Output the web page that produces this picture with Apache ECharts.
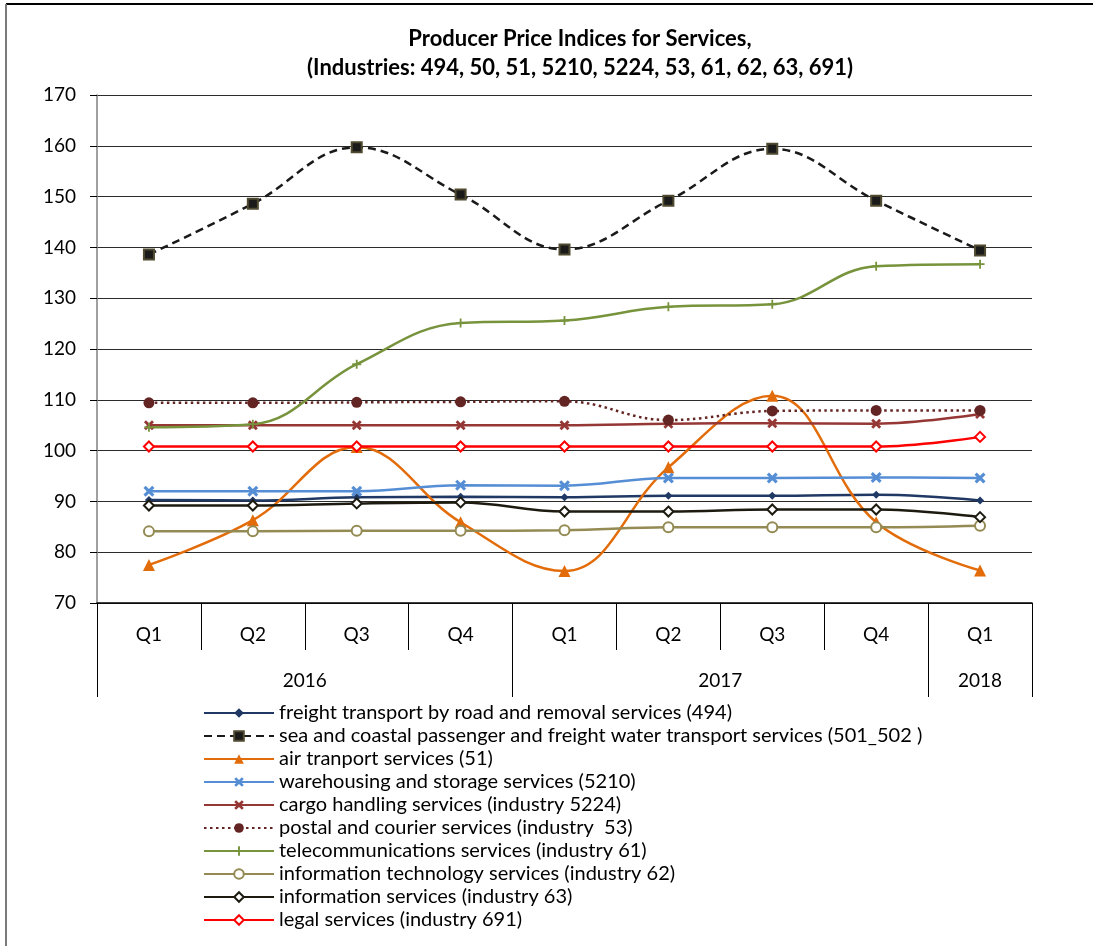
<!DOCTYPE html>
<html>
<head>
<meta charset="utf-8">
<script src="https://cdn.jsdelivr.net/npm/echarts@6/dist/echarts.min.js"></script>
<style>
  html, body { margin: 0; padding: 0; background: #fff; }
  #chart { width: 1097px; height: 946px; }
</style>
</head>
<body>
<div id="chart"></div>
<script>
const quarters = ['Q1', 'Q2', 'Q3', 'Q4', 'Q1', 'Q2', 'Q3', 'Q4', 'Q1']
const years = ['2016', '2017', '2018']
// year span boundaries / label centres on the 0..9 category scale
const yearBounds = [0, 4, 8, 9]
const yearCenters = [2, 6, 8.5]

const freight = [90.3, 90.2, 90.8, 90.9, 90.8, 91.1, 91.1, 91.3, 90.2]
const sea = [138.6, 148.6, 159.7, 150.4, 139.6, 149.2, 159.4, 149.2, 139.4]
const air = [77.5, 86.3, 100.7, 85.9, 76.3, 96.7, 110.8, 85.9, 76.4]
const warehouse = [92.0, 92.0, 92.0, 93.2, 93.1, 94.6, 94.6, 94.7, 94.6]
const cargo = [105.0, 105.0, 105.0, 105.0, 105.0, 105.3, 105.4, 105.3, 107.2]
const postal = [109.4, 109.4, 109.5, 109.6, 109.7, 106.0, 107.8, 107.9, 107.9]
const telecom = [104.6, 105.2, 117.0, 125.1, 125.6, 128.3, 128.8, 136.3, 136.7]
const itServices = [84.1, 84.1, 84.2, 84.2, 84.3, 84.9, 84.9, 84.9, 85.2]
const info = [89.2, 89.2, 89.6, 89.8, 88.0, 88.0, 88.4, 88.4, 86.9]
const legal = [100.8, 100.8, 100.8, 100.8, 100.8, 100.8, 100.8, 100.8, 102.7]

const FONT = 'Lato'
const xMark = 'path://M0,2 L2,0 L5,3 L8,0 L10,2 L7,5 L10,8 L8,10 L5,7 L2,10 L0,8 L3,5 Z'
const plusMark = 'path://M4,0 H6 V4 H10 V6 H6 V10 H4 V6 H0 V4 H4 Z'

function line(name, data, color, symbol, size, extra) {
  const s = {
    name: name,
    type: 'line',
    data: data,
    smooth: 0.4,
    symbol: symbol,
    symbolSize: size,
    lineStyle: { color: color, width: 2.5 },
    itemStyle: { color: color },
    animation: false
  }
  return Object.assign(s, extra || {})
}

const series = [
  line('freight transport by road and removal services (494)', freight, '#1F3864', 'diamond', 8),
  line('sea and coastal passenger and freight water transport services (501_502 )', sea, '#111111', 'rect', 10, {
    lineStyle: { color: '#1a1a1a', width: 2.5, type: [8, 5] },
    itemStyle: { color: '#1a1a1a', borderColor: '#4F4A30', borderWidth: 2 }
  }),
  line('air tranport services (51)', air, '#E36C0A', 'triangle', 12),
  line('warehousing and storage services (5210)', warehouse, '#558ED5', xMark, 11),
  line('cargo handling services (industry 5224)', cargo, '#953735', xMark, 10),
  line('postal and courier services (industry  53)', postal, '#632523', 'circle', 11, {
    lineStyle: { color: '#632523', width: 2.5, type: [2.5, 3.5] }
  }),
  line('telecommunications services (industry 61)', telecom, '#77933C', plusMark, 9),
  line('information technology services (industry 62)', itServices, '#948A54', 'emptyCircle', 10, {
    itemStyle: { color: '#948A54', borderWidth: 2 }
  }),
  line('information services (industry 63)', info, '#1D1B10', 'emptyDiamond', 10, {
    itemStyle: { color: '#1D1B10', borderWidth: 2 }
  }),
  line('legal services (industry 691)', legal, '#FF0000', 'emptyDiamond', 10, {
    itemStyle: { color: '#FF0000', borderWidth: 2 }
  })
]

const chart = echarts.init(document.getElementById('chart'), null, { renderer: 'canvas' })

const option = {
  backgroundColor: '#fff',
  textStyle: { fontFamily: FONT },
  title: {
    text: 'Producer Price Indices for Services,\n(Industries: 494, 50, 51, 5210, 5224, 53, 61, 62, 63, 691)',
    left: 575,
    top: 19,
    textAlign: 'center',
    textStyle: { fontFamily: FONT, fontSize: 22, fontWeight: 'bold', color: '#000', lineHeight: 29 }
  },
  grid: { left: 97, right: 65, top: 95, bottom: 343, containLabel: false },
  legend: {
    orient: 'vertical',
    left: 203,
    top: 703,
    padding: 0,
    itemWidth: 70,
    itemHeight: 12,
    itemGap: 3,
    textStyle: { fontFamily: FONT, fontSize: 20, color: '#000', lineHeight: 20 },
    data: series.map(s => s.name)
  },
  xAxis: [
    {
      type: 'category',
      data: quarters,
      boundaryGap: true,
      axisLine: { lineStyle: { color: '#000', width: 1.5 } },
      axisTick: { show: true, interval: 0, length: 47, lineStyle: { color: '#000' } },
      axisLabel: { interval: 0, margin: 22, fontSize: 19, color: '#000', fontFamily: FONT },
      splitLine: { show: false }
    },
    {
      type: 'value',
      min: 0,
      max: 9,
      position: 'bottom',
      axisLine: { show: false },
      splitLine: { show: false },
      axisTick: { show: true, customValues: yearBounds, length: 94, lineStyle: { color: '#000' } },
      axisLabel: {
        customValues: yearCenters,
        margin: 68,
        fontSize: 19,
        color: '#000',
        fontFamily: FONT,
        formatter: v => years[yearCenters.indexOf(v)] || ''
      }
    }
  ],
  yAxis: {
    type: 'value',
    min: 70,
    max: 170,
    interval: 10,
    axisLine: { show: true, lineStyle: { color: '#808080', width: 1.5 } },
    axisTick: { show: true, length: 7, lineStyle: { color: '#000' } },
    axisLabel: { margin: 21, fontSize: 19, color: '#000', fontFamily: FONT },
    splitLine: { show: true, lineStyle: { color: '#2b2b2b', width: 1.2 } }
  },
  graphic: [
    { type: 'line', shape: { x1: 6, y1: 4, x2: 1093, y2: 4 }, style: { stroke: '#000', lineWidth: 2 } },
    { type: 'line', shape: { x1: 6, y1: 4, x2: 6, y2: 946 }, style: { stroke: '#7a7a7a', lineWidth: 2 } }
  ],
  series: series
}

chart.setOption(option)
</script>
</body>
</html>
